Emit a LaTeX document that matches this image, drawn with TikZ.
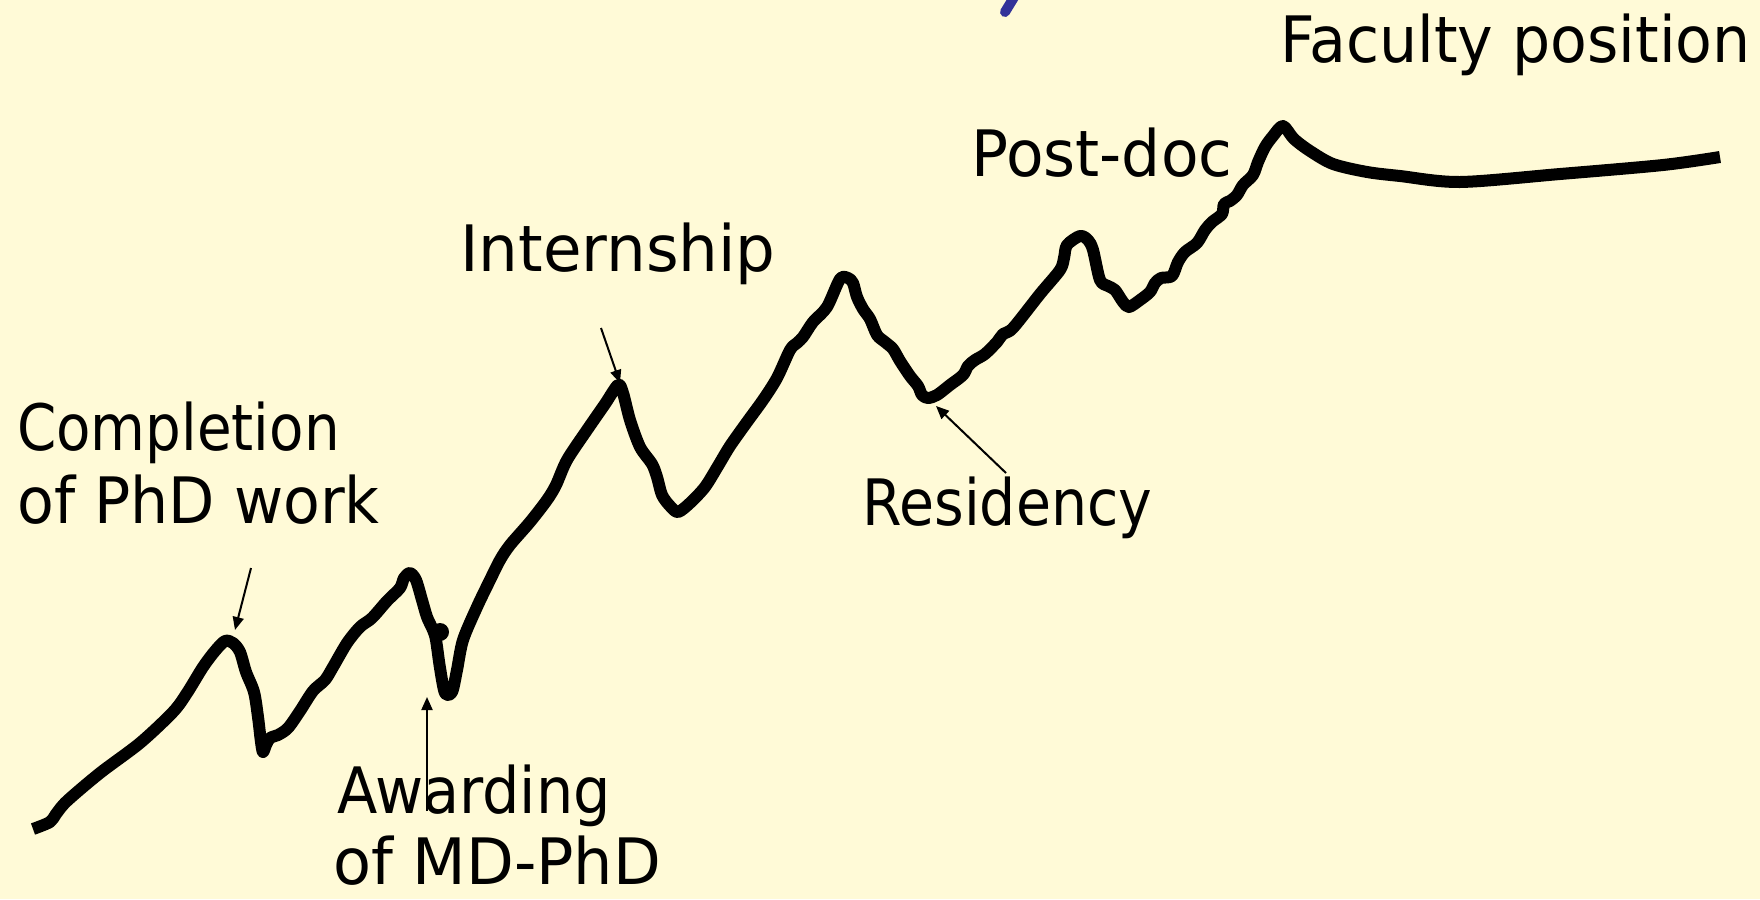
\documentclass[tikz,border=0pt]{standalone}
\usepackage{fontspec}
\setmainfont{DejaVu Sans}
\usepackage{graphicx}
\usetikzlibrary{arrows.meta}
\definecolor{bgc}{RGB}{255,250,215}
\definecolor{penblue}{RGB}{51,51,153}
\newcommand{\nrw}[2]{\scalebox{#1}[1]{#2}}
\begin{document}
\begin{tikzpicture}[x=1pt,y=-1pt,
  lbl/.style={font=\fontsize{64}{74}\selectfont, inner sep=0pt, anchor=base west},
  ptr/.style={line width=2pt, -{Triangle[length=13pt,width=11pt]}},
  trail/.style={line width=12pt, line join=round, line cap=butt}]
\fill[bgc] (0,0) rectangle (1760,899);
\useasboundingbox (0,0) rectangle (1760,899);
% cut-off blue stroke at the top
\begin{scope}
\clip (0,0) rectangle (1760,899);
\draw[penblue, line width=10pt, line cap=round] (1016,-6) -- (1005,12);
\end{scope}
% labels
\node[lbl] (fac)    at (1280,63)  {\nrw{0.94}{Faculty position}};
\node[lbl] (post)   at (971,176)  {\nrw{0.96}{Post-doc}};
\node[lbl] (intern) at (460,271)  {\nrw{0.98}{Internship}};
\node[lbl] (compA)  at (17,450)   {\nrw{0.88}{Completion}};
\node[lbl] (compB)  at (17,523)   {\nrw{0.94}{of PhD work}};
\node[lbl] (resid)  at (862,525)  {\nrw{0.89}{Residency}};
\node[lbl] (awA)    at (337,813)  {\nrw{0.92}{Awarding}};
\node[lbl] (awB)    at (333,884)  {\nrw{0.97}{of MD-PhD}};
% the career curve
\draw[trail] plot[smooth, tension=0.5] coordinates {
 (33,829) (50,822) (56,814) (67,801) (100,773) (140,743) (173,712) (187,693)
 (203,667) (215,651) (225,641) (233,643) (240,652) (246,672) (254,692)
 (258,717) (261,742) (263,752) (266,745) (270,738) (278,735) (288,728)
 (300,711) (313,691) (325,680) (333,667) (347,643) (360,627) (372,618)
 (387,601) (400,588) (404,578) (410,573) (416,580) (422,600) (427,617)
 (433,630) (436,640) (440,668) (445,693) (452,692) (457,670) (463,640)
 (477,607) (490,580) (500,560) (510,545) (530,522) (547,500) (556,485)
 (567,460) (587,430) (605,404) (618,385) (623,393) (630,420) (640,447)
 (652,464) (657,477) (662,495) (670,506) (678,512) (690,503) (705,487)
 (718,466) (730,446) (747,422) (763,400) (777,378) (790,350) (797,343)
 (803,337) (813,322) (827,307) (840,279) (848,278) (853,283) (857,297)
 (863,309) (870,319) (877,335) (885,342) (893,349) (900,361) (910,376)
 (918,386) (922,395) (928,398) (937,395) (950,385) (963,375) (968,366)
 (975,360) (985,354) (997,342) (1003,334) (1013,328) (1040,294) (1060,270)
 (1064,258) (1067,245) (1080,236) (1088,240) (1093,250) (1100,280)
 (1108,286) (1115,290) (1123,302) (1129,307) (1140,300) (1150,292)
 (1155,283) (1161,278) (1172,276) (1178,262) (1185,252) (1197,243)
 (1205,230) (1212,222) (1222,214) (1224,204) (1230,201) (1237,195)
 (1243,185) (1253,175) (1258,162) (1265,147) (1273,136) (1283,126)
 (1294,139) (1310,151) (1333,164) (1367,172) (1400,176) (1460,182)
 (1560,174) (1663,165) (1720,157)};
\fill (440,632) circle (9);
% pointers
\coordinate (cTail) at (251,568);  \coordinate (cTip) at (235,630);
\coordinate (aTail) at (427,811);  \coordinate (aTip) at (427,697);
\coordinate (iTail) at (601,328);  \coordinate (iTip) at (620,383);
\coordinate (rTail) at (1006,473); \coordinate (rTip) at (936,406);
\draw[ptr] (cTail) -- (cTip);
\draw[ptr] (aTail) -- (aTip);
\draw[ptr] (iTail) -- (iTip);
\draw[ptr] (rTail) -- (rTip);
\end{tikzpicture}
\end{document}
